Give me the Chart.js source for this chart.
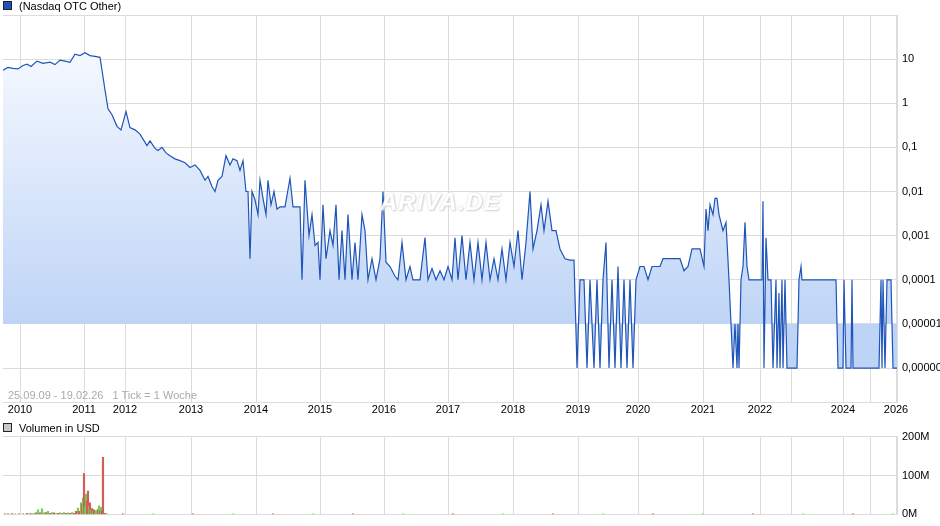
<!DOCTYPE html>
<html>
<head>
<meta charset="utf-8">
<script src="https://cdn.jsdelivr.net/npm/chart.js@4"></script>
<style>
body { margin: 0; background: #fff; font-family: "Liberation Sans", Arial, sans-serif; }
#wrap { position: relative; width: 940px; height: 526px; overflow: hidden; }
.legend { position: absolute; left: 3px; font-size: 11px; color: #000; }
.legend span.box { display: inline-block; width: 7px; height: 7px; border: 1px solid #222; margin-right: 7px; vertical-align: 0px; }
#priceBox { position: absolute; left: 0; top: 0; width: 940px; height: 422px; }
#volBox { position: absolute; left: 0; top: 425px; width: 940px; height: 101px; }
#range { position: absolute; left: 8px; top: 389px; font-size: 11px; color: #aaa; }
#mark { position: absolute; left: 380px; top: 188px; font-size: 24px; font-style: italic; font-weight: bold; color: #fff; text-shadow: 0 0 2px #ccc, 1px 1px 2px #ccc; opacity: 0.9; letter-spacing: 1px; }
</style>
</head>
<body>
<div id="wrap">
  <div id="priceBox"><canvas id="priceChart"></canvas></div>
  <div id="volBox"><canvas id="volChart"></canvas></div>
  <div class="legend" style="top:0px"><span class="box" style="background:#1f55b8"></span>(Nasdaq OTC Other)</div>
  <div class="legend" style="top:422px"><span class="box" style="background:#c8c8c8"></span>Volumen in USD</div>
  <div id="range">25.09.09 - 19.02.26&nbsp;&nbsp;&nbsp;1 Tick = 1 Woche</div>
  <div id="mark">ARIVA.DE</div>
</div>
<script>
// x = week slot along the axis (axis is not linear in calendar time)
const yearLabels = ["2010", "2011", "2012", "2013", "2014", "2015", "2016", "2017", "2018", "2019", "2020", "2021", "2022", "", "2024", "", "2026"];
const yearSlots = [17, 81, 122, 188, 253, 317, 381, 445, 510, 575, 635, 700, 757, 788, 840, 867, 893];

// [slot, price]
const price2009to2013 = [[0,5.6],[5,6.5],[10,6.2],[15,6],[20,7.2],[24,7.7],[28,6.8],[34,9],[40,8],[47,8.5],[52,7.5],[57,9.5],[62,9],[67,8.5],[72,13],[77,12],[82,14],[87,12],[92,11.5],[97,11],[99,5.6],[102,2],[105,0.75],[109,0.55],[114,0.3],[118,0.25],[123,0.65],[127,0.28],[132,0.25],[137,0.2],[144,0.11],[147,0.14],[152,0.095],[155,0.085],[159,0.1],[163,0.075],[167,0.065],[172,0.055],[177,0.05],[182,0.045],[187,0.035],[192,0.04],[197,0.03],[202,0.018],[205,0.022],[209,0.013],[212,0.01],[215,0.018],[219,0.022],[223,0.065],[227,0.04],[230,0.055],[234,0.05],[237,0.03],[240,0.05],[243,0.01],[245,0.01],[247,0.0003],[249,0.01]];
const price2014to2018 = [[252,0.0065],[255,0.003],[257,0.018],[260,0.007],[263,0.003],[265,0.018],[268,0.005],[271,0.01],[274,0.004],[277,0.0045],[282,0.0045],[287,0.02],[290,0.0045],[294,0.0045],[297,0.0045],[299,0.0001],[302,0.018],[306,0.001],[309,0.003],[312,0.0006],[315,0.0007],[317,0.0001],[320,0.005],[323,0.0003],[327,0.0013],[330,0.0006],[333,0.005],[336,0.0001],[339,0.0013],[342,0.0001],[345,0.003],[349,0.0001],[352,0.0007],[355,0.0001],[359,0.003],[362,0.0013],[365,0.0001],[369,0.0003],[373,0.0001],[377,0.0003],[380,0.01],[383,0.00025],[387,0.0002],[392,0.00012],[395,0.0001],[399,0.0007],[403,0.0001],[407,0.0002],[410,0.0001],[417,0.0001],[422,0.0009],[425,0.0001],[429,0.00018],[433,0.0001],[437,0.00016],[441,0.0001],[445,0.0002],[449,0.0001],[452,0.0009],[455,0.0001],[459,0.001],[463,0.0001],[467,0.0007],[471,0.0001],[475,0.0007],[479,0.0001],[483,0.0007],[487,0.0001],[491,0.0003],[495,0.0001],[499,0.0005],[503,0.0001],[507,0.0007],[511,0.0002],[515,0.0013],[519,0.0001],[523,0.0007],[527,0.01],[530,0.0005],[534,0.0013],[538,0.005],[541,0.0013],[545,0.006],[549,0.0013],[553,0.0013],[557,0.0005],[562,0.0003],[567,0.00028],[571,0.00028]];
const price2019to2021 = [[574,0.000001],[577,0.0001],[581,0.0001],[584,0.000001],[587,0.0001],[591,0.000001],[594,0.0001],[597,0.000001],[600,0.0001],[603,0.0007],[606,0.000001],[609,0.0001],[612,0.000001],[615,0.0002],[618,0.000001],[621,0.0001],[624,0.000001],[627,0.0001],[630,0.000001],[633,0.0001],[637,0.0002],[641,0.0002],[645,0.0001],[649,0.0002],[653,0.0002],[657,0.0002],[660,0.0003],[667,0.0003],[677,0.0003],[681,0.00016],[685,0.0002],[689,0.0005],[697,0.0005],[701,0.0002],[703,0.004],[705,0.0013],[707,0.005],[710,0.003],[712,0.007],[714,0.007],[716,0.003],[720,0.0013],[723,0.002],[726,0.0001],[730,0.000001],[732,0.00001],[734,0.000001],[735,0.00001],[736,0.000001],[738,0.0001],[740,0.0002],[742,0.002],[744,0.0002],[746,0.0001]];
const price2022to2026 = [[759,0.0001],[760,0.006],[761,0.000001],[763,0.0009],[765,0.0001],[768,0.0001],[770,0.000001],[773,0.0001],[774,0.000001],[776,0.00005],[777,0.000001],[779,0.0001],[780,0.000001],[782,0.0001],[784,0.000001],[794,0.000001],[796,0.0001],[798,0.0002],[799,0.0001],[833,0.0001],[835,0.000001],[840,0.000001],[841,0.0001],[843,0.000001],[848,0.000001],[849,0.0001],[850,0.000001],[876,0.000001],[878,0.0001],[879,0.000001],[880,0.0001],[882,0.000001],[884,0.0001],[888,0.0001],[890,0.000001],[895,0.000001]];

const priceTicks = [0.000001, 0.00001, 0.0001, 0.001, 0.01, 0.1, 1, 10, 100];
const priceTickLabels = ["0,000001", "0,00001", "0,0001", "0,001", "0,01", "0,1", "1", "10", ""];

// [slot, volume in M, 1 = up week]
const volume = [[2,2,1],[5,1,0],[9,2,0],[12,1.5,1],[16,1,0],[20,2,1],[24,3,0],[27,3,1],[29,1,0],[31,2,1],[33,4,0],[35,12,1],[37,4,0],[39,14,1],[41,4,1],[43,5,0],[45,8,1],[47,3,0],[49,5,1],[51,4,0],[53,2,1],[55,3,0],[57,4,1],[59,2,0],[61,5,1],[63,3,0],[65,4,1],[67,3,0],[69,5,1],[71,3,0],[73,8,0],[75,16,1],[76,8,0],[78,30,1],[79,25,0],[80,42,1],[81,105,0],[82,18,1],[83,52,1],[84,35,0],[85,60,0],[86,20,1],[87,30,0],[88,12,1],[89,15,0],[90,8,1],[91,12,0],[93,10,1],[95,13,0],[96,22,1],[97,8,0],[98,18,1],[99,10,0],[100,147,0],[102,3,0],[104,1,1],[120,1.5,0],[150,1.2,1],[190,1,0],[230,1,1],[270,1.2,0],[310,1,1],[350,1,0],[400,1,1],[450,1,0],[500,1,1],[550,1,0],[600,1,1],[650,1,0],[700,1,1],[750,1,0],[800,1,1],[850,1,0],[890,1,1]];

const gridColor = "#dcdcdc";
const tickFont = { family: "Liberation Sans", size: 11 };
const xMin = 0, xMax = 894;

function xAxis(showLabels) {
    return {
        type: 'linear', min: xMin, max: xMax, offset: false,
        afterBuildTicks: axis => { axis.ticks = yearSlots.map(v => ({ value: v })); },
        ticks: {
            display: showLabels, autoSkip: false, maxRotation: 0, padding: 1,
            color: "#000", font: tickFont,
            callback: (v, i) => yearLabels[i]
        },
        grid: { color: gridColor, drawTicks: false, offset: false },
        border: { color: gridColor },
        afterFit: axis => { axis.height = showLabels ? 18 : 0; }
    };
}

const priceData = [...price2009to2013, ...price2014to2018, ...price2019to2021, ...price2022to2026];

const priceChart = new Chart(document.getElementById("priceChart"), {
    type: 'line',
    data: {
        datasets: [{
            data: priceData.map(p => ({ x: p[0], y: p[1] })),
            borderColor: '#1f55b8',
            borderWidth: 1.2,
            pointRadius: 0,
            tension: 0,
            fill: { target: { value: 0.00001 } },
            backgroundColor: ctx => {
                const area = ctx.chart.chartArea;
                if (!area) return 'rgba(200,215,245,0.7)';
                const g = ctx.chart.ctx.createLinearGradient(0, area.top + 40, 0, area.top + 310);
                g.addColorStop(0, 'rgba(244,248,255,1)');
                g.addColorStop(1, 'rgba(190,212,246,1)');
                return g;
            }
        }]
    },
    options: {
        responsive: true, maintainAspectRatio: false, animation: false,
        layout: { padding: { top: 15, left: 3, right: 0, bottom: 2 } },
        plugins: { legend: { display: false }, tooltip: { enabled: false } },
        scales: {
            x: xAxis(true),
            y: {
                type: 'logarithmic', position: 'right',
                min: 0.00000017, max: 100,
                afterBuildTicks: axis => { axis.ticks = priceTicks.map(v => ({ value: v })); },
                ticks: {
                    color: "#000", font: tickFont, padding: 5,
                    callback: (v) => priceTickLabels[priceTicks.indexOf(v)]
                },
                grid: { color: gridColor, drawTicks: false },
                border: { color: gridColor },
                afterFit: axis => { axis.width = 43; }
            }
        }
    }
});

const volChart = new Chart(document.getElementById("volChart"), {
    type: 'bar',
    data: {
        datasets: [{
            data: volume.map(v => ({ x: v[0], y: v[1] })),
            backgroundColor: volume.map(v => v[2] ? '#66d455' : '#d95a5a'),
            barThickness: 1.5
        }]
    },
    options: {
        responsive: true, maintainAspectRatio: false, animation: false,
        layout: { padding: { top: 0, left: 3, bottom: 7 } },
        plugins: { legend: { display: false }, tooltip: { enabled: false } },
        scales: {
            x: xAxis(false),
            y: {
                position: 'right', min: 0, max: 200,
                afterBuildTicks: axis => { axis.ticks = [0, 100, 200].map(v => ({ value: v })); },
                ticks: { color: "#000", font: tickFont, padding: 5, callback: v => v + "M" },
                grid: { color: gridColor, drawTicks: false },
                border: { color: gridColor },
                afterFit: axis => { axis.width = 43; }
            }
        }
    }
});
</script>
</body>
</html>
